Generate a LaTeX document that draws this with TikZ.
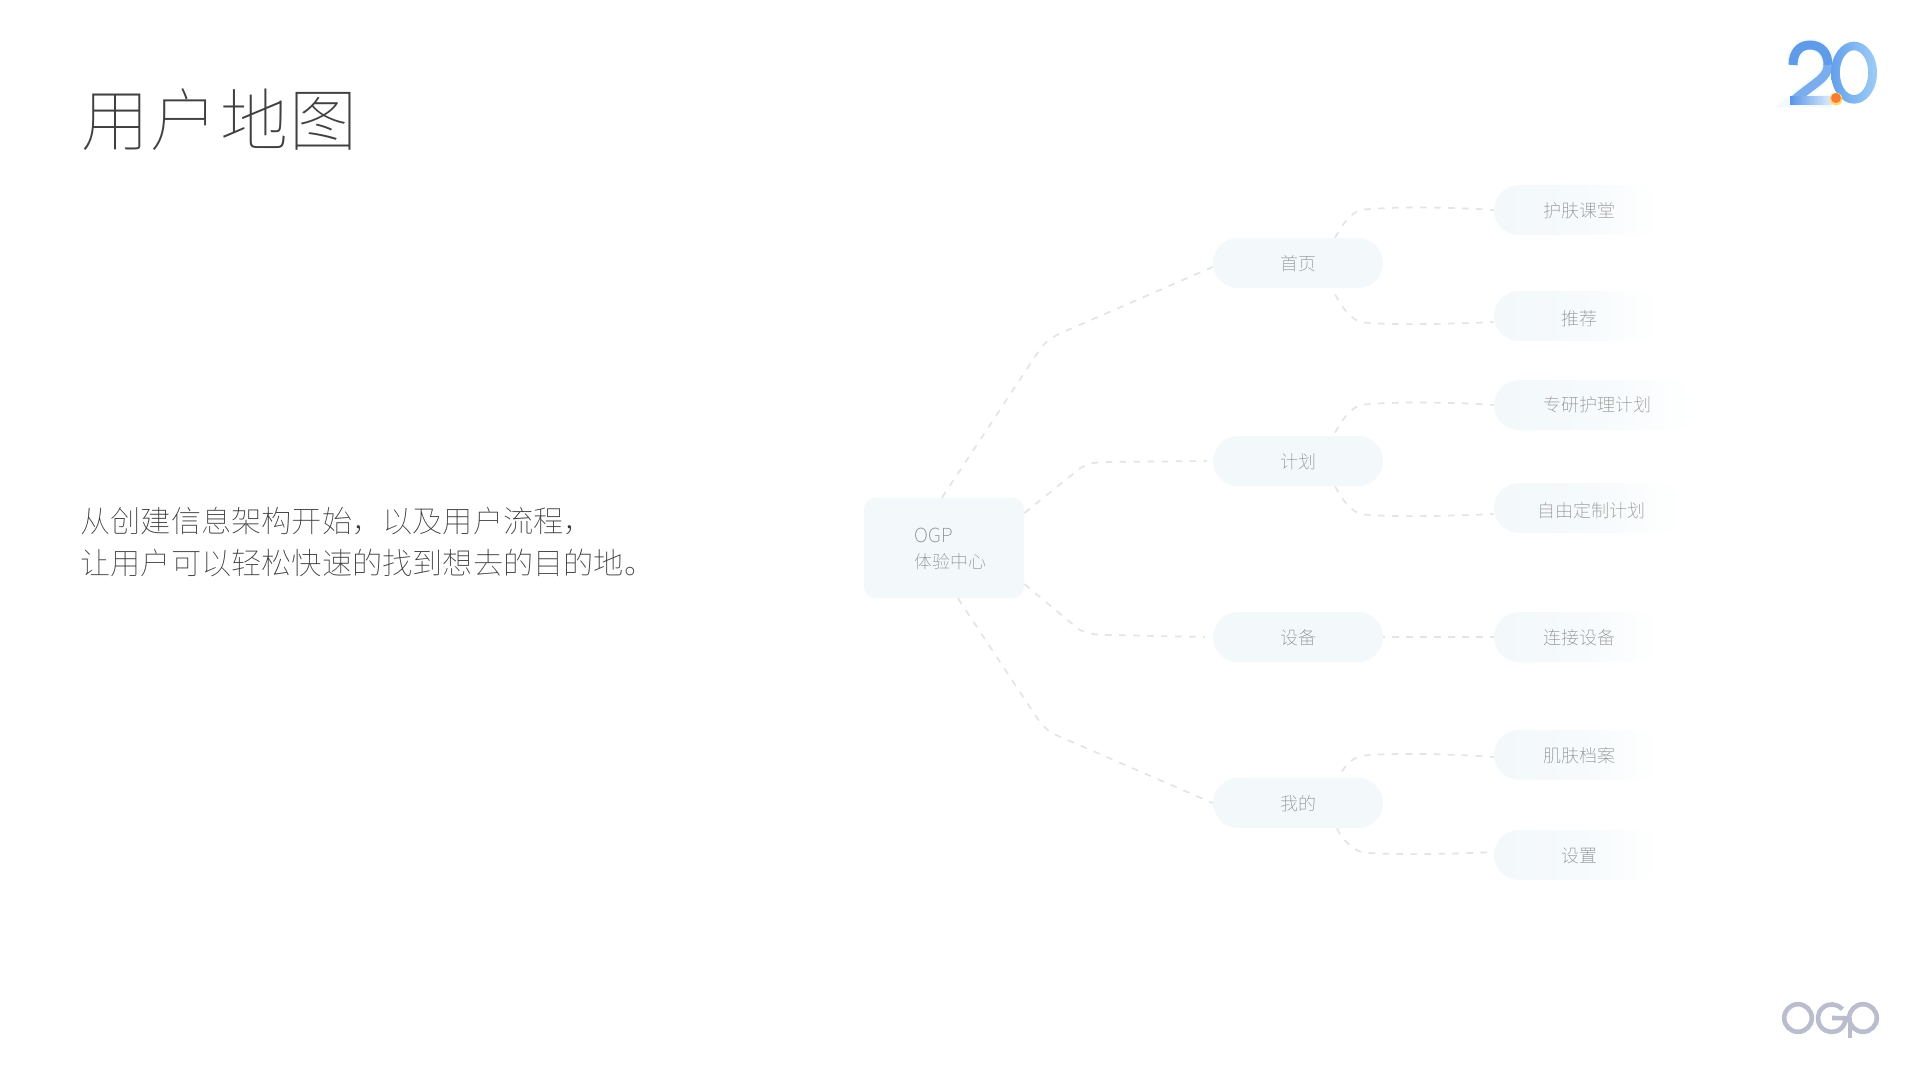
\documentclass[tikz,border=0pt]{standalone}
\usepackage{fontspec}
\usetikzlibrary{calc}
\newfontfamily\cjkthin{Noto Sans CJK SC Thin}
\newfontfamily\cjktitle[LetterSpace=2]{Noto Sans CJK SC Thin}
\definecolor{pale}{HTML}{F3F8FB}
\definecolor{palemid}{HTML}{F6FAFC}
\definecolor{paleend}{HTML}{FDFEFE}
\definecolor{linkgray}{HTML}{E4E4E4}
\definecolor{labelgray}{HTML}{7E7E7E}
\pgfdeclarehorizontalshading{pillfade}{100bp}{color(0bp)=(pale); color(25bp)=(pale); color(50bp)=(palemid); color(68bp)=(paleend); color(75bp)=(white); color(100bp)=(white)}
\tikzset{
  labeltext/.style={text=labelgray,font=\cjkthin\fontsize{9pt}{9pt}\selectfont,inner sep=0pt,text height=8.5pt,text depth=1pt},
  rootbox/.style={fill=pale,rounded corners=5.5pt,minimum width=80pt,minimum height=50pt,inner sep=0pt},
  pill/.style={labeltext,fill=pale,rounded corners=12.5pt,minimum width=85pt,minimum height=25pt},
  fadepill/.style={labeltext,shading=pillfade,rounded corners=12.5pt,minimum height=25pt},
  link/.style={draw=linkgray,line width=.85pt,dash pattern=on 3.3pt off 3.7pt},
}
\begin{document}
\begin{tikzpicture}[x=0.5pt,y=-0.5pt]
\useasboundingbox (0,0) rectangle (1920,1080);
% title and body
\node[anchor=west,inner sep=0pt,text=black!75,font=\cjktitle\fontsize{34pt}{34pt}\selectfont] (title) at (81,120) {用户地图};
\node[anchor=west,align=left,inner sep=0pt,text=black!78,font=\cjkthin\fontsize{15.1pt}{21pt}\selectfont] (body) at (80,541.5) {从创建信息架构开始，以及用户流程，\\让用户可以轻松快速的找到想去的目的地。};
% nodes
\node[rootbox] (root) at (944,548) {};
\node[anchor=west,align=left,inner sep=0pt,text=labelgray,font=\cjkthin\fontsize{9pt}{13pt}\selectfont] (roottext) at (914,549) {{\fontsize{9.7pt}{13pt}\selectfont OGP}\\体验中心};
\node[pill] (home) at (1298,263) {首页};
\node[pill] (plan) at (1298,461) {计划};
\node[pill] (dev) at (1298,637) {设备};
\node[pill] (mine) at (1298,803) {我的};
\node[fadepill,minimum width=85pt] (skin) at (1579,210) {护肤课堂};
\node[fadepill,minimum width=85pt] (rec) at (1579,316) {\raisebox{-1pt}{推荐}};
\node[fadepill,minimum width=103pt] (study) at (1597,405) {\raisebox{.5pt}{专研护理计划}};
\node[fadepill,minimum width=97pt] (custom) at (1591,508) {\raisebox{-1pt}{自由定制计划}};
\node[fadepill,minimum width=85pt] (conn) at (1579,637) {连接设备};
\node[fadepill,minimum width=85pt] (archive) at (1579,755) {肌肤档案};
\node[fadepill,minimum width=85pt] (settings) at (1579,855) {设置};
% connectors
\draw[link] ($(root.north)+(-2,0)$) -- ++(97,-147) .. controls +(8,-12) and +(-12,5) .. ++(30,-21) -- ($(home.west)+(0,4)$);
\draw[link] ($(root.east)+(0,-35)$) -- ++(56,-45) .. controls +(8,-5) and +(-10,0) .. ++(27,-6) -- ($(plan.west)+(-6,0)$);
\draw[link] ($(root.east)+(0,36)$) -- ++(54,45) .. controls +(8,5) and +(-10,0) .. ++(29,6) -- ($(dev.west)+(-8,0)$);
\draw[link] ($(root.south)+(14,0)$) -- ++(80,121) .. controls +(6,8) and +(-10,-5) .. ++(19,16) -- (mine.west);
\draw[link] ($(home.north)+(37,0)$) .. controls +(8,-14) and +(-12,2) .. ++(28,-28) .. controls +(30,-3) and +(-40,-3) .. (skin.west);
\draw[link] ($(home.south)+(37,6)$) .. controls +(8,14) and +(-12,-2) .. ++(28,28) .. controls +(30,3) and +(-40,2) .. ($(rec.west)+(0,6)$);
\draw[link] ($(plan.north)+(37,-3)$) .. controls +(8,-14) and +(-12,2) .. ++(28,-28) .. controls +(30,-3) and +(-40,-3) .. (study.west);
\draw[link] ($(plan.south)+(37,0)$) .. controls +(8,14) and +(-12,-2) .. ++(28,28) .. controls +(30,3) and +(-40,2) .. ($(custom.west)+(0,6)$);
\draw[link,dash phase=2.6pt] (dev.east) -- (conn.west);
\draw[link] ($(mine.north)+(44,-6)$) .. controls +(5,-9) and +(-9,2) .. ++(21,-16) .. controls +(30,-3) and +(-40,-3) .. ($(archive.west)+(0,2)$);
\draw[link] ($(mine.south)+(39,0)$) .. controls +(5,12) and +(-9,-2) .. ++(26,24) .. controls +(30,3) and +(-40,2) .. ($(settings.west)+(0,-3)$);
% 2.0 badge
\begin{scope}
\draw[line width=6.5pt,blue!40!cyan,opacity=.05] (1793,65) .. controls (1793,52) and (1800,45) .. (1810,45) .. controls (1821,45) and (1828,53) .. (1828,65) .. controls (1828,78) and (1815,82) .. (1793,101) -- (1832,101);
\draw[line width=4.5pt,color={rgb,255:red,96;green,155;blue,232}] (1793,65) .. controls (1793,52) and (1800,45) .. (1810,45) .. controls (1821,45) and (1828,53) .. (1828,65);
\draw[line width=4.5pt,color={rgb,255:red,122;green,172;blue,238}] (1828,65) .. controls (1828,78) and (1815,82) .. (1793,101);
\shade[left color={rgb,255:red,90;green,148;blue,230},right color={rgb,255:red,225;green,238;blue,252}] (1790,97) rectangle (1832,105);
\shade[even odd rule,left color={rgb,255:red,100;green,160;blue,235},right color={rgb,255:red,158;green,205;blue,245}] (1854,72.7) ellipse[x radius=11.5pt,y radius=15.5pt] (1854,72.7) ellipse[x radius=7.1pt,y radius=11.2pt];
\fill[color={rgb,255:red,255;green,215;blue,110}] (1836,99) circle[radius=3.2pt];
\fill[color={rgb,255:red,246;green,125;blue,55}] (1836,98) circle[radius=2.5pt];
\end{scope}
% OGP mark
\begin{scope}[draw={rgb,255:red,186;green,189;blue,205}]
\draw[line width=2.3pt] (1798,1018) circle[radius=6.9pt];
\draw[line width=2.3pt] (1842.3,1009.3) arc[start angle=40,end angle=360,radius=6.9pt] -- (1832,1018);
\draw[line width=2.3pt] (1863,1018) circle[radius=6.9pt];
\draw[line width=2.3pt] (1850,1018) -- (1850,1038);
\end{scope}
\end{tikzpicture}
\end{document}
